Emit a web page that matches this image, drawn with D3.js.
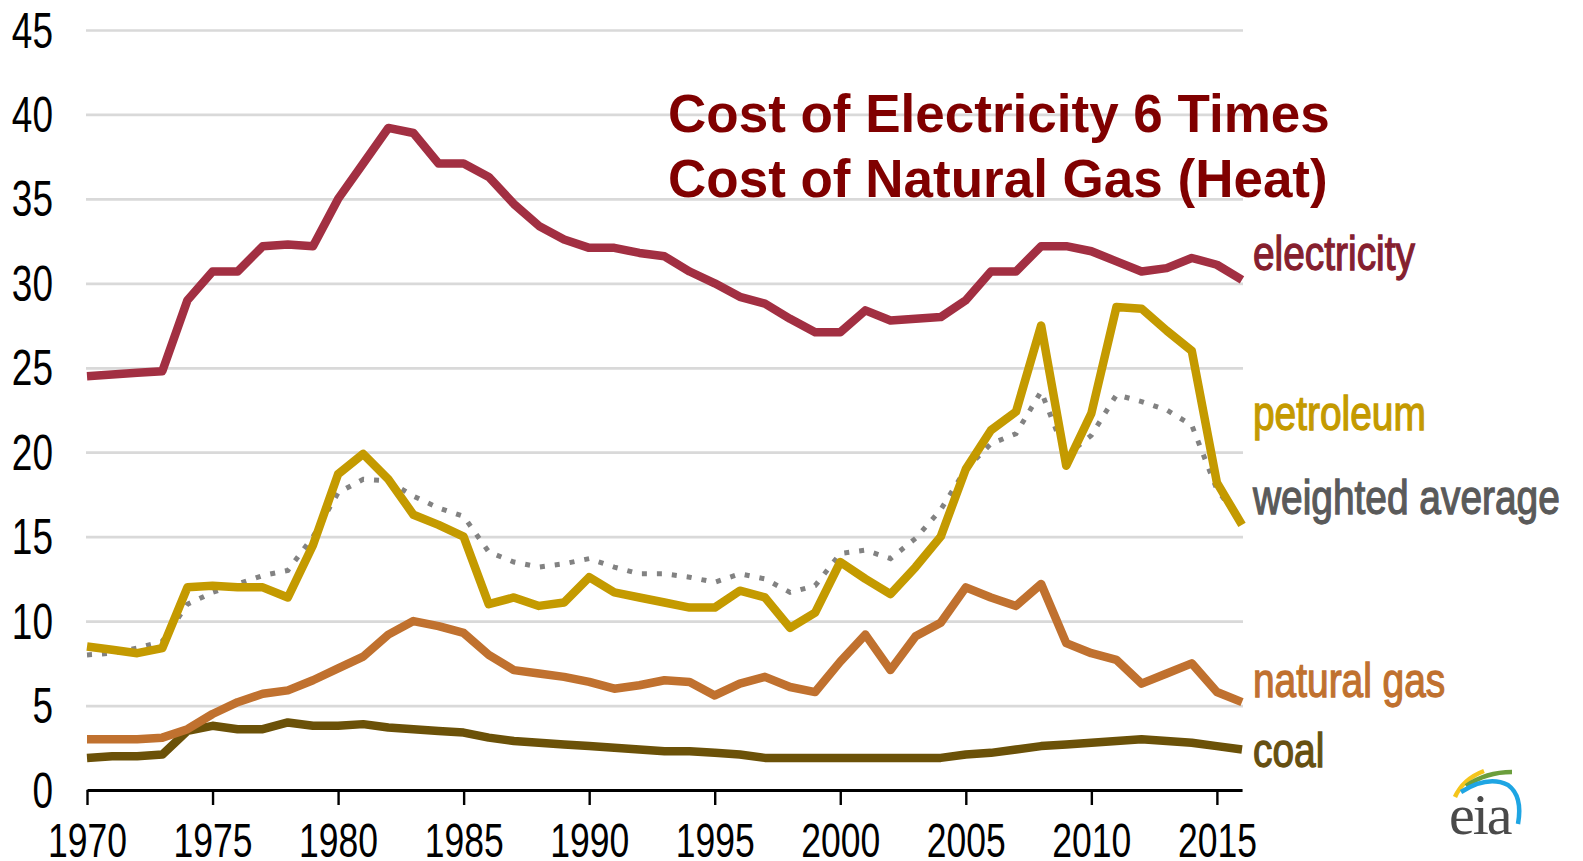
<!DOCTYPE html>
<html>
<head>
<meta charset="utf-8">
<script src="https://cdn.jsdelivr.net/npm/d3@7"></script>
<style>
  html, body { margin: 0; padding: 0; background: #fff; }
  svg { display: block; font-family: "Liberation Sans", Arial, sans-serif; }
</style>
</head>
<body>
<div id="chart"></div>
<script>
// Annual values 1970-2016 (dollars per million Btu)
const years = d3.range(1970, 2017);

const electricity = [24.5, 24.6, 24.7, 24.8, 29.0, 30.7, 30.7, 32.2, 32.3, 32.2,
  35.0, 37.1, 39.2, 38.9, 37.1, 37.1, 36.3, 34.7, 33.4, 32.6,
  32.1, 32.1, 31.8, 31.6, 30.7, 30.0, 29.2, 28.8, 27.9, 27.1,
  27.1, 28.4, 27.8, 27.9, 28.0, 29.0, 30.7, 30.7, 32.2, 32.2,
  31.9, 31.3, 30.7, 30.9, 31.5, 31.1, 30.2];

const petroleum = [8.5, 8.3, 8.1, 8.4, 12.0, 12.1, 12.0, 12.0, 11.4, 14.5,
  18.7, 19.9, 18.4, 16.3, 15.7, 15.0, 11.0, 11.4, 10.9, 11.1,
  12.6, 11.7, 11.4, 11.1, 10.8, 10.8, 11.8, 11.4, 9.6, 10.5,
  13.5, 12.5, 11.6, 13.2, 15.0, 19.0, 21.3, 22.4, 27.5, 19.2,
  22.3, 28.6, 28.5, 27.2, 26.0, 18.2, 15.7];

const weightedAverage = [8.0, 8.1, 8.4, 8.8, 11.0, 11.7, 12.2, 12.7, 13.0, 15.0,
  17.6, 18.4, 18.3, 17.4, 16.7, 16.2, 14.1, 13.5, 13.2, 13.4,
  13.7, 13.2, 12.8, 12.8, 12.6, 12.3, 12.8, 12.5, 11.7, 12.1,
  14.0, 14.2, 13.7, 14.9, 16.6, 19.0, 20.5, 21.1, 23.6, 19.8,
  21.0, 23.4, 23.0, 22.5, 21.6, 17.8, 15.8];

const naturalGas = [3.0, 3.0, 3.0, 3.1, 3.6, 4.5, 5.2, 5.7, 5.9, 6.5,
  7.2, 7.9, 9.2, 10.0, 9.7, 9.3, 8.0, 7.1, 6.9, 6.7,
  6.4, 6.0, 6.2, 6.5, 6.4, 5.6, 6.3, 6.7, 6.1, 5.8,
  7.6, 9.2, 7.1, 9.1, 9.9, 12.0, 11.4, 10.9, 12.2, 8.7,
  8.1, 7.7, 6.3, 6.9, 7.5, 5.8, 5.2];

const coal = [1.9, 2.0, 2.0, 2.1, 3.5, 3.8, 3.6, 3.6, 4.0, 3.8,
  3.8, 3.9, 3.7, 3.6, 3.5, 3.4, 3.1, 2.9, 2.8, 2.7,
  2.6, 2.5, 2.4, 2.3, 2.3, 2.2, 2.1, 1.9, 1.9, 1.9,
  1.9, 1.9, 1.9, 1.9, 1.9, 2.1, 2.2, 2.4, 2.6, 2.7,
  2.8, 2.9, 3.0, 2.9, 2.8, 2.6, 2.4];

const yTicks = [0, 5, 10, 15, 20, 25, 30, 35, 40, 45];
const xTicks = [1970, 1975, 1980, 1985, 1990, 1995, 2000, 2005, 2010, 2015];
const titleLines = ["Cost of Electricity 6 Times", "Cost of Natural Gas (Heat)"];

const W = 1583, H = 861;
const margin = {top: 30, right: 341, bottom: 71, left: 87};
const width = W - margin.left - margin.right;
const height = H - margin.top - margin.bottom;

const svg = d3.select("#chart").append("svg")
  .attr("width", W)
  .attr("height", H);

const g = svg.append("g")
  .attr("transform", `translate(${margin.left},${margin.top})`);

const x = d3.scaleLinear().domain([1970, 2016]).range([0, width]);
const y = d3.scaleLinear().domain([0, 45]).range([height, 0]);

// gridlines + y labels
const narrowNum = 0.74;
const yAxis = g.append("g")
  .call(d3.axisLeft(y).tickValues(yTicks).tickSize(-width - 1).tickPadding(0));
yAxis.select(".domain").remove();
yAxis.selectAll(".tick line")
  .attr("stroke", "#d9d9d9")
  .attr("stroke-width", 2.7)
  .attr("x1", -1);
yAxis.selectAll(".tick text")
  .attr("fill", "#000")
  .style("font-size", "50px")
  .attr("text-anchor", "end")
  .attr("x", -34 / narrowNum)
  .attr("dy", "0.34em")
  .attr("transform", `scale(${narrowNum},1)`);

// series lines
const line = d3.line()
  .x((d, i) => x(years[i]))
  .y(d => y(d));

const series = [
  {name: "weighted average", values: weightedAverage, color: "#828282", dotted: true},
  {name: "coal", values: coal, color: "#6b5108"},
  {name: "natural gas", values: naturalGas, color: "#c0712f"},
  {name: "petroleum", values: petroleum, color: "#c49a00"},
  {name: "electricity", values: electricity, color: "#a22f42"}
];

series.forEach(s => {
  const p = g.append("path")
    .datum(s.values)
    .attr("d", line)
    .attr("fill", "none")
    .attr("stroke", s.color);
  if (s.dotted) {
    p.attr("stroke-width", 5)
      .attr("stroke-dasharray", "5 10");
  } else {
    p.attr("stroke-width", 8.5)
      .attr("stroke-linejoin", "round");
  }
});

// x axis
const xAxis = g.append("g")
  .attr("transform", `translate(0,${height})`)
  .call(d3.axisBottom(x).tickValues(xTicks).tickFormat(d3.format("d")).tickSize(15).tickSizeOuter(0));
xAxis.select(".domain")
  .attr("stroke", "#000")
  .attr("stroke-width", 3.2);
xAxis.selectAll(".tick line")
  .attr("stroke", "#000")
  .attr("stroke-width", 2.4);
xAxis.selectAll(".tick text")
  .attr("fill", "#000")
  .style("font-size", "48px")
  .attr("y", 67)
  .attr("dy", null)
  .attr("transform", `scale(${narrowNum},1)`);

// series labels on the right
const narrowLabel = 0.81;
const labels = [
  {text: "electricity", color: "#85202f", y: 270},
  {text: "petroleum", color: "#c49a00", y: 430},
  {text: "weighted average", color: "#5a5a5a", y: 514},
  {text: "natural gas", color: "#c0712f", y: 697},
  {text: "coal", color: "#665011", y: 767}
];
labels.forEach(l => {
  svg.append("text")
    .attr("transform", `translate(1253,${l.y}) scale(${narrowLabel},1)`)
    .attr("fill", l.color)
    .attr("stroke", l.color)
    .attr("stroke-width", 1.3)
    .style("font-size", "48px")
    .text(l.text);
});

// title
titleLines.forEach((t, i) => {
  svg.append("text")
    .attr("x", 668)
    .attr("y", 132 + i * 65)
    .attr("fill", "#800000")
    .style("font-size", "53px")
    .style("font-weight", "bold")
    .text(t);
});

// eia logo
const logo = svg.append("g");
logo.append("path")
  .attr("d", "M1455,797 Q1463,779 1484,771")
  .attr("fill", "none").attr("stroke", "#f4c51c").attr("stroke-width", 4.5);
logo.append("path")
  .attr("d", "M1466,786 Q1486,772 1512,772")
  .attr("fill", "none").attr("stroke", "#6b9e3c").attr("stroke-width", 4.5);
logo.append("path")
  .attr("d", "M1461,792 Q1488,775 1508,785 Q1523,796 1518,824")
  .attr("fill", "none").attr("stroke", "#1ea5e3").attr("stroke-width", 4.5);
logo.append("text")
  .attr("x", 1449)
  .attr("y", 834)
  .attr("fill", "#4a4a4a")
  .style("font-family", "'Liberation Serif', serif")
  .style("font-size", "58px")
  .style("letter-spacing", "-2px")
  .text("eia");
</script>
</body>
</html>
